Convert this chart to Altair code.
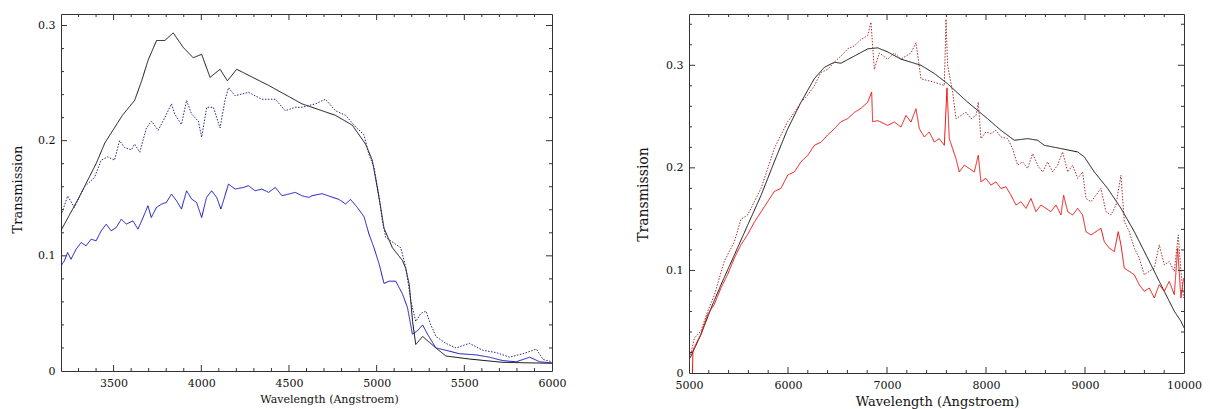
import altair as alt
import pandas as pd

# ---------------- Left panel (blue) ----------------
lb_wl = [3200, 3300, 3400, 3450, 3500, 3550, 3620, 3660, 3697, 3745, 3792, 3840, 3897, 3954,
         4002, 4050, 4107, 4149, 4202, 4384, 4574, 4765, 4861, 4937, 4975, 5004, 5023, 5042,
         5090, 5147, 5166, 5186, 5205, 5223, 5262, 5338, 5395, 5529, 5720, 6000]
lb_t = [0.122, 0.150, 0.180, 0.198, 0.210, 0.222, 0.235, 0.252, 0.270, 0.287, 0.287, 0.2936, 0.281, 0.272,
        0.275, 0.255, 0.262, 0.252, 0.262, 0.248, 0.232, 0.222, 0.2135, 0.197, 0.183, 0.159, 0.142, 0.124,
        0.107, 0.096, 0.089, 0.075, 0.043, 0.023, 0.030, 0.020, 0.013, 0.0104, 0.0075, 0.0067]

ld_wl = [3200, 3238, 3276, 3334, 3391, 3429, 3467, 3505, 3534, 3563, 3601, 3620, 3649, 3687, 3716,
         3754, 3792, 3830, 3849, 3887, 3916, 3945, 3983, 4002, 4031, 4069, 4107, 4135, 4155, 4193,
         4269, 4345, 4422, 4479, 4536, 4574, 4651, 4708, 4765, 4823, 4880, 4928, 4956, 4985, 5014,
         5033, 5052, 5080, 5109, 5138, 5166, 5195, 5223, 5252, 5281, 5309, 5338, 5395, 5453, 5529,
         5605, 5682, 5758, 5834, 5911, 5949, 6000]
ld_t = [0.135, 0.152, 0.142, 0.160, 0.168, 0.183, 0.186, 0.183, 0.200, 0.194, 0.192, 0.197, 0.190, 0.211, 0.217,
        0.209, 0.220, 0.232, 0.223, 0.214, 0.235, 0.223, 0.217, 0.203, 0.229, 0.229, 0.211, 0.235, 0.246, 0.239,
        0.242, 0.236, 0.236, 0.226, 0.229, 0.229, 0.232, 0.236, 0.226, 0.222, 0.212, 0.205, 0.188, 0.177, 0.151,
        0.130, 0.116, 0.113, 0.110, 0.107, 0.090, 0.061, 0.043, 0.050, 0.052, 0.040, 0.030, 0.024, 0.020, 0.024,
        0.018, 0.016, 0.012, 0.015, 0.019, 0.010, 0.008]

ls_wl = [3200, 3219, 3238, 3257, 3286, 3315, 3343, 3372, 3400, 3429, 3458, 3486, 3515, 3544, 3572,
         3610, 3639, 3668, 3696, 3715, 3744, 3773, 3801, 3830, 3859, 3887, 3916, 3945, 3973, 4002,
         4030, 4059, 4088, 4112, 4135, 4155, 4193, 4240, 4269, 4307, 4345, 4384, 4422, 4460, 4498,
         4536, 4574, 4613, 4632, 4689, 4746, 4785, 4823, 4851, 4890, 4928, 4956, 4985, 5014, 5042,
         5071, 5109, 5147, 5176, 5204, 5233, 5262, 5290, 5338, 5395, 5472, 5567, 5643, 5720, 5796,
         5873, 5930, 6000]
ls_t = [0.0913, 0.0957, 0.1029, 0.097, 0.1058, 0.1116, 0.1087, 0.1145, 0.113, 0.1217, 0.1275, 0.1217,
        0.1246, 0.1319, 0.1275, 0.1304, 0.1232, 0.1333, 0.1435, 0.1333, 0.142, 0.1449, 0.1464, 0.1536,
        0.1478, 0.1406, 0.1565, 0.1493, 0.1464, 0.1333, 0.1507, 0.1565, 0.1507, 0.1406, 0.1522, 0.1623,
        0.1580, 0.1594, 0.1609, 0.1565, 0.1580, 0.1551, 0.1594, 0.1522, 0.1536, 0.1551, 0.1522, 0.1507,
        0.1522, 0.154, 0.151, 0.149, 0.145, 0.149, 0.142, 0.134, 0.119, 0.107, 0.093, 0.076,
        0.078, 0.078, 0.067, 0.055, 0.032, 0.035, 0.040, 0.032, 0.020, 0.018, 0.015, 0.014,
        0.012, 0.009, 0.008, 0.012, 0.008, 0.007]

# ---------------- Right panel (red) ----------------
rb_wl = [5013, 5121, 5222, 5323, 5458, 5592, 5727, 5862, 5997, 6131, 6266, 6367, 6468, 6535, 6670,
         6805, 6906, 7007, 7141, 7343, 7478, 7612, 7814, 8016, 8151, 8286, 8420, 8521, 8589, 8757,
         8926, 8993, 9094, 9229, 9363, 9498, 9633, 9767, 9902, 9969, 10000]
rb_t = [0.015, 0.0375, 0.063, 0.086, 0.115, 0.144, 0.173, 0.206, 0.238, 0.264, 0.287, 0.298, 0.303, 0.302, 0.309,
        0.316, 0.317, 0.313, 0.306, 0.300, 0.292, 0.282, 0.2641, 0.2479, 0.2366, 0.2269, 0.2285, 0.2269, 0.222,
        0.2188, 0.2155, 0.2107, 0.196, 0.1799, 0.1606, 0.1378, 0.112, 0.0861, 0.0602, 0.0505, 0.044]

rd_wl = [5003, 5054, 5121, 5188, 5256, 5357, 5458, 5525, 5592, 5660, 5727, 5794, 5862, 5929, 5997,
         6064, 6131, 6199, 6266, 6333, 6400, 6468, 6535, 6603, 6670, 6737, 6805, 6838, 6872, 6922,
         7007, 7074, 7141, 7242, 7293, 7343, 7478, 7579, 7596, 7612, 7663, 7697, 7747, 7798, 7848,
         7899, 7922, 7949, 7999, 8050, 8101, 8151, 8218, 8269, 8319, 8370, 8420, 8471, 8521, 8572,
         8622, 8673, 8723, 8774, 8825, 8875, 8926, 8976, 9010, 9060, 9111, 9161, 9212, 9262, 9313,
         9363, 9397, 9447, 9498, 9548, 9599, 9649, 9700, 9750, 9801, 9851, 9902, 9942, 9969, 9996]
rd_t = [0.012, 0.034, 0.041, 0.060, 0.076, 0.109, 0.128, 0.150, 0.154, 0.167, 0.180, 0.199, 0.219, 0.232, 0.245,
        0.254, 0.264, 0.271, 0.280, 0.293, 0.296, 0.303, 0.309, 0.316, 0.319, 0.325, 0.329, 0.342, 0.296, 0.312,
        0.306, 0.312, 0.306, 0.312, 0.322, 0.2868, 0.2835, 0.2803, 0.345, 0.300, 0.2738, 0.2479, 0.2511, 0.2544,
        0.2479, 0.2511, 0.2641, 0.2285, 0.235, 0.2334, 0.2366, 0.2301, 0.2285, 0.2188, 0.2026, 0.2058, 0.1994,
        0.2139, 0.2026, 0.196, 0.2058, 0.196, 0.2026, 0.2155, 0.196, 0.2026, 0.1897, 0.196, 0.1702, 0.167,
        0.1734, 0.1799, 0.1573, 0.154, 0.1638, 0.1928, 0.1476, 0.1378, 0.1217, 0.112, 0.0958, 0.0991, 0.1022,
        0.1249, 0.1055, 0.1087, 0.0991, 0.1346, 0.0991, 0.0732]

rs_wl = [5035, 5040, 5054, 5121, 5188, 5256, 5323, 5390, 5458, 5525, 5592, 5660, 5727, 5794, 5862,
         5929, 5997, 6064, 6131, 6199, 6266, 6333, 6400, 6468, 6535, 6603, 6670, 6737, 6805, 6845,
         6855, 6906, 6939, 7006, 7074, 7141, 7192, 7242, 7293, 7326, 7377, 7427, 7478, 7528, 7579,
         7606, 7629, 7663, 7697, 7730, 7781, 7831, 7882, 7922, 7949, 7999, 8050, 8101, 8151, 8202,
         8252, 8303, 8353, 8404, 8454, 8505, 8555, 8606, 8656, 8707, 8757, 8784, 8825, 8875, 8926,
         8976, 9010, 9060, 9111, 9161, 9195, 9245, 9296, 9336, 9363, 9397, 9447, 9498, 9548, 9599,
         9649, 9700, 9750, 9801, 9851, 9902, 9936, 9969, 9996]
rs_t = [0.0, 0.022, 0.025, 0.038, 0.057, 0.067, 0.083, 0.096, 0.112, 0.125, 0.135, 0.147, 0.157, 0.167, 0.177,
        0.180, 0.193, 0.196, 0.206, 0.212, 0.222, 0.225, 0.232, 0.238, 0.245, 0.248, 0.254, 0.258, 0.264, 0.274,
        0.245, 0.246, 0.2447, 0.2414, 0.2447, 0.2398, 0.2511, 0.2447, 0.2576, 0.2382, 0.2301, 0.235, 0.2252,
        0.2285, 0.222, 0.278, 0.2285, 0.2188, 0.209, 0.196, 0.2026, 0.1994, 0.196, 0.2123, 0.1864, 0.1897,
        0.1832, 0.1864, 0.1799, 0.1815, 0.1734, 0.1638, 0.167, 0.1605, 0.1702, 0.1573, 0.1638, 0.1605, 0.1573,
        0.1638, 0.154, 0.1734, 0.1573, 0.154, 0.1605, 0.154, 0.1378, 0.1346, 0.1378, 0.1411, 0.128, 0.1217,
        0.1184, 0.1378, 0.1249, 0.1022, 0.0991, 0.0958, 0.0861, 0.0796, 0.0829, 0.0732, 0.0861, 0.0796, 0.0893,
        0.0764, 0.1217, 0.0732, 0.0926]

# ---------------- Ticks ----------------
l_xlab = [3500, 4000, 4500, 5000, 5500, 6000]
l_xmaj = [3500, 4000, 4500, 5000, 5500]
l_xmin = [3300, 3400, 3600, 3700, 3800, 3900, 4100, 4200, 4300, 4400, 4600, 4700, 4800, 4900,
          5100, 5200, 5300, 5400, 5600, 5700, 5800, 5900]
r_xlab = [5000, 6000, 7000, 8000, 9000, 10000]
r_xmaj = [6000, 7000, 8000, 9000]
r_xmin = [5200, 5400, 5600, 5800, 6200, 6400, 6600, 6800, 7200, 7400, 7600, 7800,
          8200, 8400, 8600, 8800, 9200, 9400, 9600, 9800]
y_lab = [0, 0.1, 0.2, 0.3]
y_maj = [0.1, 0.2, 0.3]
l_ymin = [0.02, 0.04, 0.06, 0.08, 0.12, 0.14, 0.16, 0.18, 0.22, 0.24, 0.26, 0.28]
r_ymin = [0.02, 0.04, 0.06, 0.08, 0.12, 0.14, 0.16, 0.18, 0.22, 0.24, 0.26, 0.28, 0.32, 0.34]

FONT = "DejaVu Serif"
INK = "#111111"
TICK = "#333333"
MAJ = 6
MINR = 3


def frame(wl, t, s):
    return pd.DataFrame({"wl": wl, "t": t, "s": [s] * len(wl)})


def panel(df, names, colors, widths, dashes, xdom, ydom, w, h, xlab, xmaj, xmin, ymin,
          xtitle_x, xtitle_y, ytitle_x, ytitle_y, xtfs, ytfs, lfs):
    xs = alt.Scale(domain=xdom, nice=False, zero=False)
    ys = alt.Scale(domain=ydom, nice=False, zero=False)
    main = alt.Chart(df).mark_line(clip=True).encode(
        x=alt.X("wl:Q", scale=xs, axis=alt.Axis(
            orient="bottom", values=xlab, format="d", ticks=False, domain=False, grid=False,
            labelFont=FONT, labelFontSize=lfs, labelColor=INK, labelPadding=6,
            title="Wavelength (Angstroem)", titleFont=FONT, titleFontSize=xtfs,
            titleFontWeight="normal", titleColor=INK, titleX=xtitle_x, titleY=xtitle_y,
            titleBaseline="middle", labelFlush=False)),
        y=alt.Y("t:Q", scale=ys, axis=alt.Axis(
            orient="left", values=y_lab, format="~g", ticks=False, domain=False, grid=False,
            labelFont=FONT, labelFontSize=lfs, labelColor=INK, labelPadding=6,
            title="Transmission", titleFont=FONT, titleFontSize=ytfs, titleFontWeight="normal",
            titleColor=INK, titleX=ytitle_x, titleY=ytitle_y, titleBaseline="middle",
            labelFlush=False)),
        color=alt.Color("s:N", scale=alt.Scale(domain=names, range=colors), legend=None),
        strokeDash=alt.StrokeDash("s:N", scale=alt.Scale(domain=names, range=dashes), legend=None),
        strokeWidth=alt.StrokeWidth("s:N", scale=alt.Scale(domain=names, range=widths), legend=None),
        order=alt.Order("wl:Q"),
    )
    layers = [main]
    xt = [(xmaj, MAJ), (xmin, MINR)]
    yt = [(y_maj, MAJ), (ymin, MINR)]
    for vals, sz in xt:
        d = pd.DataFrame({"v": vals})
        layers.append(alt.Chart(d).mark_rule(color=TICK, strokeWidth=1).encode(
            x=alt.X("v:Q", scale=xs, axis=None), y=alt.value(h), y2=alt.value(h - sz)))
        layers.append(alt.Chart(d).mark_rule(color=TICK, strokeWidth=1).encode(
            x=alt.X("v:Q", scale=xs, axis=None), y=alt.value(0), y2=alt.value(sz)))
    for vals, sz in yt:
        d = pd.DataFrame({"v": vals})
        layers.append(alt.Chart(d).mark_rule(color=TICK, strokeWidth=1).encode(
            y=alt.Y("v:Q", scale=ys, axis=None), x=alt.value(0), x2=alt.value(sz)))
        layers.append(alt.Chart(d).mark_rule(color=TICK, strokeWidth=1).encode(
            y=alt.Y("v:Q", scale=ys, axis=None), x=alt.value(w), x2=alt.value(w - sz)))
    return alt.layer(*layers).resolve_axis(x="independent", y="independent").properties(
        width=w, height=h)


L_NAMES = ["L model", "L dotted", "L solid"]
R_NAMES = ["R model", "R dotted", "R solid"]

left_df = pd.concat([frame(lb_wl, lb_t, L_NAMES[0]), frame(ld_wl, ld_t, L_NAMES[1]),
                     frame(ls_wl, ls_t, L_NAMES[2])], ignore_index=True)
right_df = pd.concat([frame(rb_wl, rb_t, R_NAMES[0]), frame(rd_wl, rd_t, R_NAMES[1]),
                      frame(rs_wl, rs_t, R_NAMES[2])], ignore_index=True)

left = panel(left_df, L_NAMES, ["#111111", "#26267e", "#1414c4"], [1.0, 1.0, 1.7],
             [[1, 0], [1.5, 1.5], [1, 0]], [3200, 6000], [0, 0.31], 491, 357,
             l_xlab, l_xmaj, l_xmin, l_ymin,
             268, 28, -44, 175, 11, 13, 11)
right = panel(right_df, R_NAMES, ["#111111", "#a83030", "#ee1111"], [1.0, 1.0, 1.7],
              [[1, 0], [1.5, 1.5], [1, 0]], [5000, 10000], [0, 0.35], 495, 359,
              r_xlab, r_xmaj, r_xmin, r_ymin,
              248, 28, -46, 180, 13, 14, 11)

chart = alt.hconcat(left, right, spacing=137, bounds="flush").resolve_scale(
    color="independent", strokeDash="independent", strokeWidth="independent").configure_view(
    stroke="#333333", strokeWidth=1).properties(
    padding={"left": 10, "top": 13, "right": 5, "bottom": 0}, background="white")

chart.save("out.html", embed_options={"renderer": "svg", "actions": False})
